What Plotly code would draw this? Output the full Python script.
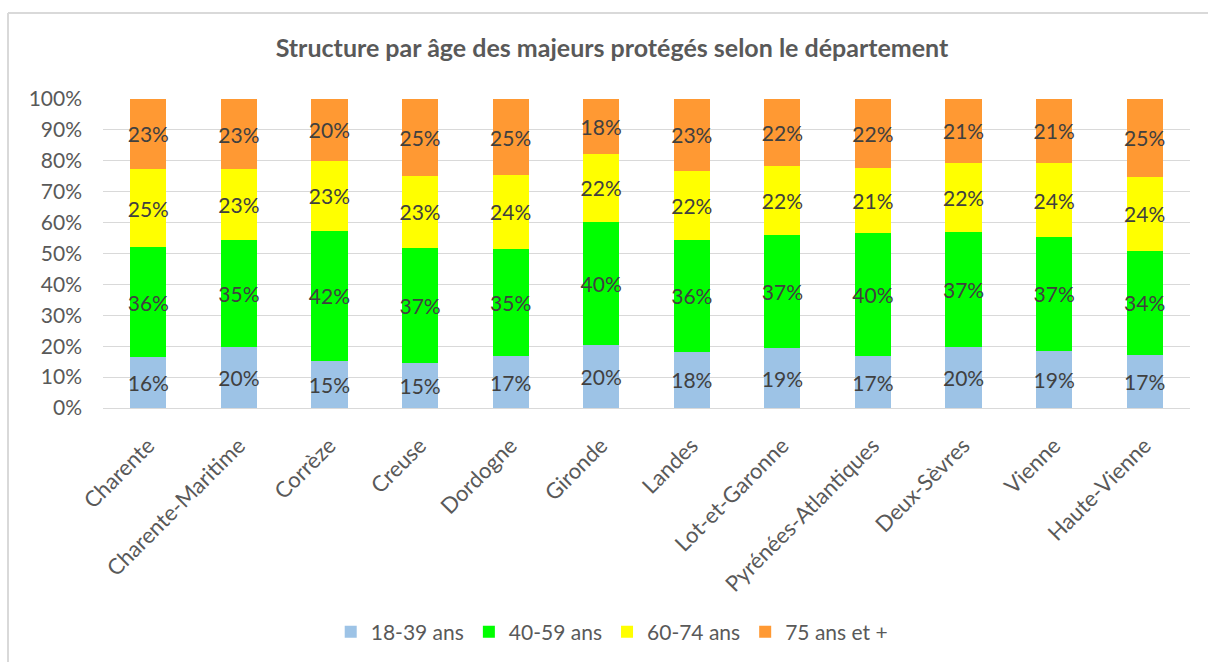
import plotly.graph_objects as go

# Départements (axe des catégories)
departements = ["Charente", "Charente-Maritime", "Corrèze", "Creuse", "Dordogne", "Gironde",
                "Landes", "Lot-et-Garonne", "Pyrénées-Atlantiques", "Deux-Sèvres", "Vienne",
                "Haute-Vienne"]

# Part de chaque tranche d'âge (en %)
age_18_39 = [16.4, 19.7, 15.3, 14.7, 16.7, 20.3, 18.2, 19.4, 16.7, 19.8, 18.6, 17.1]
age_40_59 = [35.6, 34.7, 42.0, 37.2, 34.8, 39.8, 36.2, 36.7, 40.0, 37.2, 36.6, 33.8]
age_60_74 = [25.4, 22.9, 22.7, 23.2, 23.9, 22.2, 22.4, 22.1, 21.1, 22.4, 24.2, 24.0]
age_75_plus = [22.6, 22.7, 20.0, 24.9, 24.6, 17.7, 23.2, 21.8, 22.2, 20.6, 20.6, 25.1]

series = [
    ("18-39 ans", age_18_39, "#9DC3E6"),
    ("40-59 ans", age_40_59, "#00FF00"),
    ("60-74 ans", age_60_74, "#FFFF00"),
    ("75 ans et +", age_75_plus, "#FF9933"),
]

FONT = "Lato"
TXT = "#595959"

fig = go.Figure()
for name, vals, col in series:
    fig.add_trace(go.Bar(
        name=name, x=departements, y=vals,
        marker=dict(color=col, line=dict(width=0)),
        text=vals, texttemplate="%{y:.0f}%",
        textposition="inside", insidetextanchor="middle",
        textangle=0, constraintext="none",
        textfont=dict(family=FONT, size=21, color="#404040"),
        hoverinfo="skip",
    ))

# Plot area geometry (pixels) used for the outer frame lines
L, R, T, B = 103, 18, 99, 254
W, H = 1208, 662
pw, ph = W - L - R, H - T - B

def px(xp):
    return (xp - L) / pw

def py(yp):
    return (H - B - yp) / ph

frame = dict(color="#D9D9D9", width=2)
fig.add_shape(type="line", xref="paper", yref="paper",
              x0=px(8), x1=px(1210), y0=py(13), y1=py(13), line=frame)
fig.add_shape(type="line", xref="paper", yref="paper",
              x0=px(8), x1=px(8), y0=py(13), y1=py(664), line=frame)

fig.update_layout(
    width=W, height=H,
    barmode="stack", bargap=0.6,
    plot_bgcolor="white", paper_bgcolor="white",
    margin=dict(l=L, r=R, t=T, b=B, autoexpand=False),
    font=dict(family=FONT, color=TXT),
    title=dict(text="<b>Structure par âge des majeurs protégés selon le département</b>",
               x=612 / W, xref="container", xanchor="center", y=1 - 48 / H, yanchor="middle",
               font=dict(family=FONT, size=25, color=TXT)),
    yaxis=dict(range=[0, 100], dtick=10, ticksuffix="%", showgrid=True,
               gridcolor="#D9D9D9", gridwidth=1, zeroline=False, showline=False,
               tickfont=dict(family=FONT, size=21, color=TXT), ticks="",
               ticklabelstandoff=20),
    xaxis=dict(tickangle=-45, showline=True, linecolor="#D9D9D9", linewidth=1,
               tickfont=dict(family=FONT, size=22, color=TXT), ticks="",
               ticklabelstandoff=15),
    legend=dict(orientation="h", x=0.468, xanchor="center", y=py(632), yanchor="middle",
                yref="paper", font=dict(family=FONT, size=21, color=TXT),
                traceorder="normal", itemwidth=30, tracegroupgap=0),
    showlegend=True,
)

fig.write_html("out.html")
